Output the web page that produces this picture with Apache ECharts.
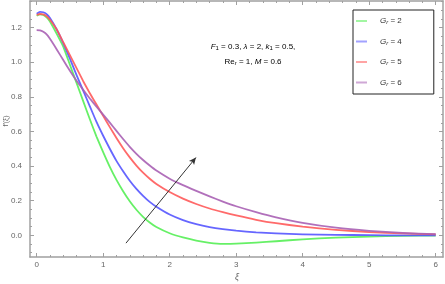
<!DOCTYPE html>
<html><head><meta charset="utf-8">
<script src="https://cdn.jsdelivr.net/npm/echarts@6/dist/echarts.min.js"></script>
<style>html,body{margin:0;padding:0;background:#fff}#c{width:445px;height:284px}</style>
</head><body><div id="c"></div>
<script>
const xs = [0,0.05,0.1,0.15,0.2,0.3,0.4,0.5,0.6,0.7,0.8,0.9,1.0,1.1,1.2,1.3,1.4,1.5,1.6,1.7,1.8,2.0,2.2,2.4,2.6,2.8,3.0,3.3,3.6,4.0,4.5,5.0,5.5,6.0];
const gr2 = [1.268,1.276,1.272,1.258,1.235,1.165,1.09,0.985,0.88,0.775,0.67,0.57,0.48,0.395,0.32,0.255,0.197,0.148,0.107,0.074,0.048,0.012,-0.012,-0.03,-0.043,-0.049,-0.048,-0.042,-0.034,-0.023,-0.013,-0.007,-0.003,-0.001];
const gr4 = [1.28,1.29,1.288,1.277,1.255,1.19,1.11,1.02,0.925,0.835,0.745,0.655,0.575,0.5,0.43,0.37,0.315,0.268,0.228,0.193,0.165,0.12,0.088,0.065,0.048,0.036,0.027,0.017,0.011,0.006,0.003,0.001,0.0,0.0];
const gr5 = [1.272,1.278,1.276,1.265,1.245,1.19,1.115,1.04,0.965,0.89,0.82,0.755,0.69,0.625,0.562,0.503,0.45,0.403,0.362,0.327,0.297,0.25,0.212,0.181,0.155,0.134,0.115,0.09,0.07,0.05,0.032,0.019,0.011,0.006];
const gr6 = [1.185,1.184,1.175,1.16,1.135,1.075,1.012,0.95,0.892,0.84,0.79,0.743,0.697,0.651,0.603,0.556,0.511,0.471,0.435,0.403,0.374,0.327,0.29,0.257,0.225,0.195,0.168,0.134,0.104,0.072,0.044,0.026,0.014,0.007];
const seriesNames = ['Gr2','Gr4','Gr5','Gr6'];
const seriesLabels = ['2','4','5','6'];
const xTicks = [0,1,2,3,4,5,6];
const yTicks = [0,0.2,0.4,0.6,0.8,1.0,1.2];
const arrowStart = [1.343,-0.045];
const arrowEnd = [2.395,0.449];

const colors = ['#55ee55','#5555ff','#ff5a5a','#a860b4'];
const xMinor = []; for (let i=0;i<=30;i++){ const v=+(i*0.2).toFixed(2); if (Math.abs(v-Math.round(v))>1e-6) xMinor.push(v); }
const yMinor = []; for (let i=-2;i<=27;i++){ const v=+(i*0.05).toFixed(2); if (Math.abs(v*5-Math.round(v*5))>1e-6) yMinor.push(v); }

const frame = '#a0a0a0';
const XMIN=-0.1, XMAX=6.11, YMIN=-0.125, YMAX=1.353;
function xa(pos, ticks, len, labels, line){
  return {type:'value', position:pos, min:XMIN, max:XMAX, splitLine:{show:false},
    axisLine:{show:line, onZero:false, lineStyle:{color:frame,width:1.5}},
    axisTick:{show:true, inside:true, length:len, customValues:ticks, lineStyle:{color:frame,width:1}},
    axisLabel:{show:labels, customValues:ticks, color:'#666', fontSize:8, fontFamily:'Liberation Sans', margin:4, formatter:v=>String(v)}};
}
function ya(pos, ticks, len, labels, line){
  return {type:'value', position:pos, min:YMIN, max:YMAX, splitLine:{show:false},
    axisLine:{show:line, onZero:false, lineStyle:{color:frame,width:1.5}},
    axisTick:{show:true, inside:true, length:len, customValues:ticks, lineStyle:{color:frame,width:1}},
    axisLabel:{show:labels, customValues:ticks, color:'#666', fontSize:8, fontFamily:'Liberation Sans', margin:8, formatter:v=>v.toFixed(1)}};
}
const richLeg = {i:{fontStyle:'italic',fontSize:8,color:'#333',fontFamily:'Liberation Sans'}, s:{fontStyle:'italic',fontSize:6,color:'#333',verticalAlign:'bottom',padding:[3,0,0,0],fontFamily:'Liberation Sans'}, t:{fontSize:8,color:'#333',fontFamily:'Liberation Sans'}};

const series = seriesNames.map((n,k)=>({
  name:n, type:'line', xAxisIndex:0, yAxisIndex:0, smooth:0.15, showSymbol:false, symbol:'none',
  data: xs.map((x,i)=>[x,[gr2,gr4,gr5,gr6][k][i]]),
  lineStyle:{color:colors[k], width:1.8, opacity:0.9, join:'round'}, itemStyle:{color:colors[k]}, z:3
}));
series[0].markLine = {silent:true, symbol:['none','arrow'], symbolSize:[5,7], animation:false,
  lineStyle:{color:'#333', width:1, type:'solid', opacity:1}, label:{show:false},
  data:[[{coord:arrowStart},{coord:arrowEnd}]]};

const chart = echarts.init(document.getElementById('c'), null, {renderer:'canvas'});
chart.setOption({
  animation:false,
  grid:{left:30, right:2, top:1, bottom:27},
  xAxis:[xa('bottom',xTicks,4,true,true), xa('bottom',xMinor,2,false,false), xa('top',xTicks,4,false,true), xa('top',xMinor,2,false,false)],
  yAxis:[ya('left',yTicks,4,true,true), ya('left',yMinor,2,false,false), ya('right',yTicks,4,false,true), ya('right',yMinor,2,false,false)],
  legend:{orient:'vertical', left:353, top:10, padding:[7,32,7,3], itemGap:12, itemWidth:11, itemHeight:2, icon:'rect',
    backgroundColor:'#fff', borderColor:'#222', borderWidth:1, borderRadius:0,
    data: seriesNames.map((n,k)=>({name:n, itemStyle:{color:colors[k], opacity:0.55}})),
    formatter: n => '{i|G}{s|r}{t| = '+seriesLabels[seriesNames.indexOf(n)]+'}',
    textStyle:{rich:richLeg, padding:[0,0,0,8]}},
  graphic:[
    {type:'text', x:253, y:42, style:{text:'{i|F}{s|1}{t| = 0.3, }{g|λ}{t| = 2, }{i|k}{s|1}{t| = 0.5,}', align:'center', rich:{
      i:{fontStyle:'italic',fontSize:8,color:'#222',fontFamily:'Liberation Sans'}, g:{fontStyle:'italic',fontSize:8,color:'#222',fontFamily:'Liberation Sans'},
      s:{fontSize:6,color:'#222',verticalAlign:'bottom',padding:[3,0,0,0],fontFamily:'Liberation Sans'}, t:{fontSize:8,color:'#222',fontFamily:'Liberation Sans'}}}},
    {type:'text', x:253, y:57, style:{text:'{t|Re}{s|r}{t| = 1, }{i|M}{t| = 0.6}', align:'center', rich:{
      i:{fontStyle:'italic',fontSize:8,color:'#222',fontFamily:'Liberation Sans'},
      s:{fontStyle:'italic',fontSize:6,color:'#222',verticalAlign:'bottom',padding:[3,0,0,0],fontFamily:'Liberation Sans'}, t:{fontSize:8,color:'#222',fontFamily:'Liberation Sans'}}}},
    {type:'text', x:237, y:273, style:{text:'ξ', align:'center', fontSize:9, fontStyle:'italic', fill:'#666', fontFamily:'Liberation Sans'}},
    {type:'text', x:3, y:121, rotation:Math.PI/2, style:{text:'f′(ξ)', align:'center', fontSize:7, fill:'#666', fontFamily:'Liberation Sans'}}
  ],
  series: series
});
</script></body></html>
